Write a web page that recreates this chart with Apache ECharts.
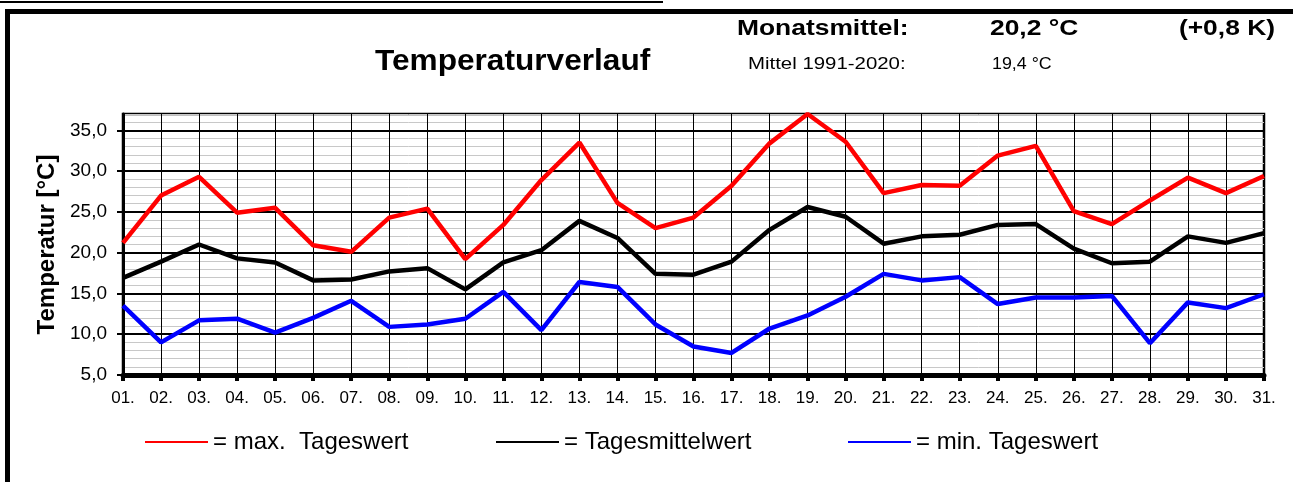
<!DOCTYPE html>
<html>
<head>
<meta charset="utf-8">
<script src="https://cdn.jsdelivr.net/npm/echarts@6/dist/echarts.min.js"></script>
<style>
  html, body { margin: 0; padding: 0; background: #fff; }
  #chart { width: 1293px; height: 482px; }
</style>
</head>
<body>
<div id="chart"></div>
<script>
// days of the month
var days = ['01.', '02.', '03.', '04.', '05.', '06.', '07.', '08.', '09.', '10.',
            '11.', '12.', '13.', '14.', '15.', '16.', '17.', '18.', '19.', '20.',
            '21.', '22.', '23.', '24.', '25.', '26.', '27.', '28.', '29.', '30.', '31.'];

// daily max / mean / min
var maxTemp  = [21.2, 27.0, 29.3, 24.9, 25.5, 20.9, 20.1, 24.3, 25.4, 19.2,
                23.4, 28.9, 33.5, 26.1, 23.0, 24.3, 28.2, 33.4, 37.0, 33.6,
                27.3, 28.3, 28.2, 31.9, 33.1, 25.1, 23.5, 26.4, 29.2, 27.3, 29.4];
var meanTemp = [16.9, 18.9, 21.0, 19.3, 18.8, 16.6, 16.7, 17.7, 18.1, 15.5,
                18.8, 20.3, 23.9, 21.8, 17.4, 17.3, 18.9, 22.8, 25.6, 24.4,
                21.1, 22.0, 22.2, 23.4, 23.5, 20.5, 18.7, 18.9, 22.0, 21.2, 22.4];
var minTemp  = [13.5, 9.0, 11.7, 11.9, 10.2, 12.0, 14.1, 10.9, 11.2, 11.9,
                15.2, 10.5, 16.4, 15.8, 11.2, 8.5, 7.7, 10.7, 12.3, 14.6,
                17.4, 16.6, 17.0, 13.7, 14.5, 14.5, 14.7, 8.9, 13.9, 13.2, 14.9];

// y ticks that get a label
var yTicks = [5, 10, 15, 20, 25, 30, 35];

// header texts
var title = 'Temperaturverlauf';
var monthLabel = 'Monatsmittel:';
var monthValue = '20,2 °C';
var monthDiff = '(+0,8 K)';
var normLabel = 'Mittel 1991-2020:';
var normValue = '19,4 °C';

var names = ['= max.  Tageswert', '= Tagesmittelwert', '= min. Tageswert'];

var FONT = '"Liberation Sans", Arial, sans-serif';

function fmt(v) {
    return v.toFixed(1).replace('.', ',');
}

function legendAt(left, name) {
    return {
        left: left, top: 425,
        icon: 'rect', itemWidth: 63, itemHeight: 2, itemGap: 0,
        textStyle: { fontFamily: FONT, fontSize: 24, color: '#000', padding: [0, 0, 0, 0] },
        data: [name]
    };
}

function hText(text, x, y, size, bold, sx, align) {
    return {
        type: 'text', x: x, y: y, scaleX: sx,
        style: {
            text: text, fill: '#000',
            font: (bold ? 'bold ' : '') + size + 'px ' + FONT,
            textAlign: align || 'left', textVerticalAlign: 'middle'
        }
    };
}

var chart = echarts.init(document.getElementById('chart'), null, { renderer: 'canvas' });

var option = {
    backgroundColor: '#fff',
    animation: false,
    grid: {
        left: 123, right: 29, top: 114, bottom: 107,
        outerBoundsMode: 'none', containLabel: false,
        show: true, borderColor: '#000', borderWidth: 2.5, backgroundColor: '#fff'
    },
    legend: [
        legendAt(140, names[0]),
        legendAt(491, names[1]),
        legendAt(843, names[2])
    ],
    xAxis: {
        type: 'category', data: days, boundaryGap: false,
        axisLine: { lineStyle: { color: '#000', width: 5 } },
        axisTick: { show: true, length: 6, lineStyle: { color: '#000', width: 4 } },
        axisLabel: { color: '#000', fontFamily: FONT, fontSize: 17, margin: 15, interval: 0 },
        splitLine: { show: true, interval: 0, lineStyle: { color: '#000', width: 1 } }
    },
    yAxis: [
        {   // fine 1-degree grid
            type: 'value', position: 'left', min: 5, max: 37, interval: 1,
            axisLine: { show: false }, axisTick: { show: false }, axisLabel: { show: false },
            splitLine: { show: true, lineStyle: { color: '#c8c8c8', width: 1 } }
        },
        {
            type: 'value', position: 'left', offset: 0, min: 5, max: 37, interval: 5,
            name: 'Temperatur [°C]', nameLocation: 'middle', nameGap: 62, nameRotate: 90,
            nameTextStyle: { fontFamily: FONT, fontSize: 24, fontWeight: 'bold', color: '#000' },
            axisLine: { show: true, lineStyle: { color: '#000', width: 3 } },
            axisTick: { show: true, length: 6, customValues: yTicks, lineStyle: { color: '#000', width: 2 } },
            axisLabel: {
                color: '#000', fontFamily: FONT, fontSize: 19, margin: 16,
                customValues: yTicks,
                formatter: function (v) { return fmt(v); }
            },
            splitLine: { show: true, lineStyle: { color: '#000', width: 2 } }
        }
    ],
    series: [
        { name: names[0], type: 'line', yAxisIndex: 1, data: maxTemp, showSymbol: false, symbol: 'none',
          lineStyle: { color: '#ff0000', width: 4.5 }, itemStyle: { color: '#ff0000' } },
        { name: names[1], type: 'line', yAxisIndex: 1, data: meanTemp, showSymbol: false, symbol: 'none',
          lineStyle: { color: '#000000', width: 4.5 }, itemStyle: { color: '#000000' } },
        { name: names[2], type: 'line', yAxisIndex: 1, data: minTemp, showSymbol: false, symbol: 'none',
          lineStyle: { color: '#0000ff', width: 4.5 }, itemStyle: { color: '#0000ff' } }
    ],
    graphic: [
        // frame
        { type: 'line', shape: { x1: 0, y1: 2, x2: 663, y2: 2 }, style: { stroke: '#000', lineWidth: 2 } },
        { type: 'line', shape: { x1: 5, y1: 11.5, x2: 1293, y2: 11.5 }, style: { stroke: '#000', lineWidth: 5 } },
        { type: 'line', shape: { x1: 7.5, y1: 9, x2: 7.5, y2: 482 }, style: { stroke: '#000', lineWidth: 5 } },
        // header
        hText(title, 375, 62, 29, true, 1.09),
        hText(monthLabel, 737, 29, 22, true, 1.2),
        hText(monthValue, 990, 29, 22, true, 1.2),
        hText(monthDiff, 1275, 29, 22, true, 1.2, 'right'),
        hText(normLabel, 748, 64, 17, false, 1.2),
        hText(normValue, 992, 64, 17, false, 1.05)
    ]
};

chart.setOption(option);
</script>
</body>
</html>
